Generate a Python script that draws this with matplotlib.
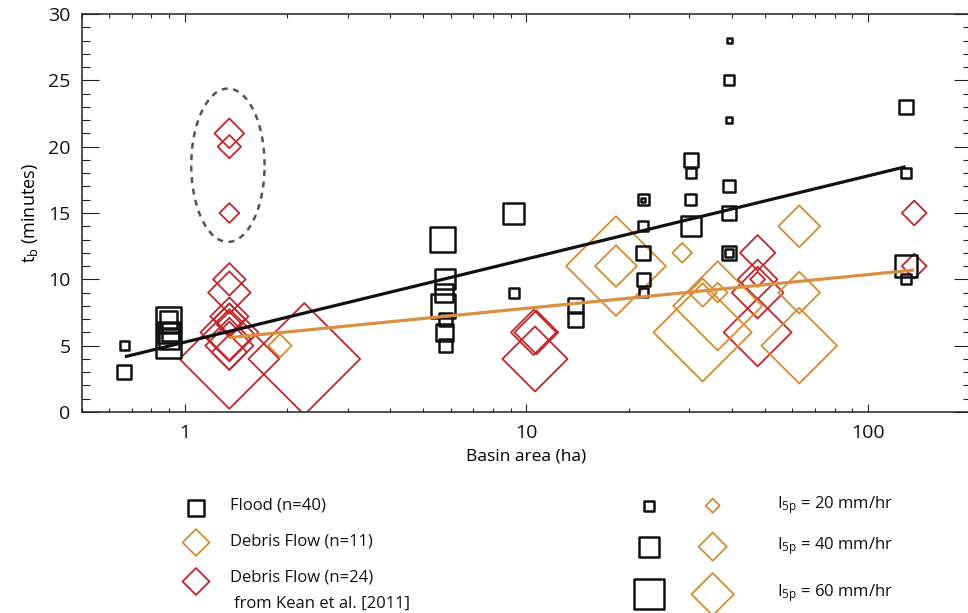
import numpy as np
import matplotlib
matplotlib.use("Agg")
import matplotlib.pyplot as plt
from matplotlib.ticker import FixedLocator, FuncFormatter, MultipleLocator, NullFormatter, LogLocator

plt.rcParams['font.family'] = ['Open Sans', 'DejaVu Sans']
plt.rcParams['mathtext.default'] = 'regular'

DPI = 100
W, H = 968, 613

# ---- data -------------------------------------------------------------
# Floods: basin area (ha), response time t_b (min), peak 5-min intensity I5p (mm/hr)
flood_area = [0.666, 0.666,
              0.90, 0.90, 0.91, 0.90, 0.90, 0.90,
              5.70, 5.80, 5.75, 5.70, 5.80, 5.75, 5.80,
              9.20, 9.20, 13.94, 13.94,
              21.98, 21.98, 21.98, 21.98, 21.98, 21.98,
              30.25, 30.25, 30.25, 30.25,
              39.24, 39.24, 39.24, 39.24, 39.24, 39.24, 39.24,
              128.8, 128.8, 128.8, 128.8]
flood_tb = [5, 3,
            7, 7, 6, 6, 5.5, 5,
            13, 10, 9, 8, 7, 6, 5,
            15, 9, 8, 7,
            16, 16, 14, 12, 10, 9,
            19, 18, 16, 14,
            28, 25, 22, 17, 15, 12, 12,
            23, 18, 11, 10]
flood_i5p = [18, 28,
             50, 34, 36, 42, 40, 50,
             50, 40, 36, 48, 26, 34, 26,
             42, 20, 30, 30,
             22, 8, 20, 28, 26, 18,
             28, 20, 22, 40,
             10, 20, 12, 24, 28, 28, 16,
             28, 20, 44, 20]

# Debris flows (this study)
debris_area = [1.902, 18.29, 18.29, 28.58, 32.8, 36.3, 32.8, 36.3, 62.86, 62.86, 62.86]
debris_tb = [5, 11, 11, 12, 6, 8, 9, 9, 14, 9, 5]
debris_i5p = [33, 141, 59, 28, 139, 126, 40, 28, 59, 59, 107]

# Debris flows from Kean et al. [2011]
kean_area = [1.352, 1.352, 1.352,
             1.352, 1.352, 1.352, 1.352, 1.352, 1.352, 1.352, 1.352, 1.352, 1.352,
             2.240,
             10.5, 10.7, 10.6,
             47.5, 47.5, 47.5, 47.5, 47.5,
             136.4, 136.4]
kean_tb = [21, 20, 15,
           10, 9, 7.2, 7, 6.6, 6, 5.5, 5, 4.5, 4,
           4,
           6, 6, 4,
           12, 10, 10, 9, 6,
           15, 11]
kean_i5p = [42, 33, 28,
            46, 60, 54, 44, 36, 82, 60, 68, 50, 141,
            158,
            64, 62, 92,
            50, 56, 21, 73, 96,
            35, 35]

# Least-squares fits t_b = a + b*log10(area)
flood_fit = (5.26, 6.27)
flood_fit_range = (0.669, 128.8)
debris_fit = (5.27, 2.545)
debris_fit_range = (1.352, 136.4)

# Legend intensities
legend_i5p = [20, 40, 60]

BLACK = '#111111'
ORANGE = '#D68C2E'
RED = '#C1272D'
ORANGE_LINE = '#DA9040'


def msize(i5p):
    """Marker area (pt^2): side of the square scales as I5p/2 pixels."""
    side_pt = np.asarray(i5p, float) / 2.0 * 72.0 / DPI
    return side_pt ** 2


fig = plt.figure(figsize=(W / DPI, H / DPI), dpi=DPI)
ax = fig.add_axes([81.7 / W, (H - 412) / H, (971 - 81.7) / W, (412 - 14) / H])

ax.scatter(kean_area, kean_tb, s=msize(kean_i5p), marker='D',
           facecolors='none', edgecolors=RED, linewidths=1.3, zorder=2)
ax.scatter(debris_area, debris_tb, s=msize(debris_i5p), marker='D',
           facecolors='none', edgecolors=ORANGE, linewidths=1.3, zorder=2)
ax.scatter(flood_area, flood_tb, s=msize(flood_i5p), marker='s',
           facecolors='none', edgecolors=BLACK, linewidths=1.8, zorder=3)

# regression lines
for (a, b), (x0, x1), col in ((flood_fit, flood_fit_range, BLACK),
                              (debris_fit, debris_fit_range, ORANGE_LINE)):
    xs = np.array([x0, x1])
    ax.plot(xs, a + b * np.log10(xs), color=col, lw=2.3, solid_capstyle='butt', zorder=4)

# dashed ellipse around the high-t_b Kean et al. events
th = np.linspace(0, 2 * np.pi, 200)
ell_lx = 0.1268 + 0.1073 * np.cos(th)
ell_y = 18.6 + 5.78 * np.sin(th)
ax.plot(10 ** ell_lx, ell_y, color='#555555', lw=1.8, ls=(0, (2.4, 2.2)), zorder=4)

ax.set_xscale('log')
ax.set_xlim(0.5, 200)
ax.set_ylim(0, 30)
ax.xaxis.set_major_locator(FixedLocator([1, 10, 100]))
ax.xaxis.set_major_formatter(FuncFormatter(lambda v, p: f'{v:g}'))
ax.xaxis.set_minor_locator(LogLocator(base=10, subs=np.arange(2, 10)))
ax.xaxis.set_minor_formatter(NullFormatter())
ax.yaxis.set_major_locator(MultipleLocator(5))
ax.yaxis.set_minor_locator(MultipleLocator(1))

ax.tick_params(which='both', direction='in', top=True, right=True, width=0.8,
               colors='#222222', labelcolor='#111111', labelsize=14)
ax.tick_params(axis='x', which='major', length=6, pad=9)
ax.tick_params(axis='x', which='minor', length=3)
ax.tick_params(axis='y', which='major', length=12, pad=8)
ax.tick_params(axis='y', which='minor', length=6)
for sp in ax.spines.values():
    sp.set_linewidth(1.1)
    sp.set_color('#222222')

ax.set_xlabel('Basin area (ha)', fontsize=12.5, labelpad=4)
ax.set_ylabel('t$_\\mathregular{b}$ (minutes)', fontsize=13, labelpad=6)

# ---- legend drawn in pixel space below the axes --------------------------
lg = fig.add_axes([0, 0, 1, 1], facecolor='none')
lg.set_xlim(0, W)
lg.set_ylim(H, 0)
lg.axis('off')


def px_size(side_px):
    return (side_px * 72.0 / DPI) ** 2


lg.scatter([196], [507.5], s=px_size(16), marker='s', facecolors='none',
           edgecolors=BLACK, linewidths=1.8)
lg.scatter([196], [542.5], s=px_size(19), marker='D', facecolors='none',
           edgecolors=ORANGE, linewidths=1.3)
lg.scatter([196], [581.5], s=px_size(19), marker='D', facecolors='none',
           edgecolors=RED, linewidths=1.3)
txt = dict(fontsize=12, va='center', ha='left', color='#111111')
lg.text(230, 505, 'Flood (n=40)', **txt)
lg.text(230, 542, 'Debris Flow (n=11)', **txt)
lg.text(230, 578, 'Debris Flow (n=24)', **txt)
lg.text(234, 604, 'from Kean et al. [2011]', **txt)

rows_y = [505.7, 546.7, 594.3]
lg.scatter([649] * 3, rows_y, s=msize(legend_i5p), marker='s', facecolors='none',
           edgecolors=BLACK, linewidths=1.8)
lg.scatter([712.7] * 3, rows_y, s=msize(legend_i5p), marker='D', facecolors='none',
           edgecolors=ORANGE, linewidths=1.3)
for yv, iv in zip(rows_y, legend_i5p):
    lg.text(776.7, yv - 1, f'I$_\\mathregular{{5p}}$ = {iv} mm/hr', **txt)

fig.savefig('out.png', dpi=DPI)
